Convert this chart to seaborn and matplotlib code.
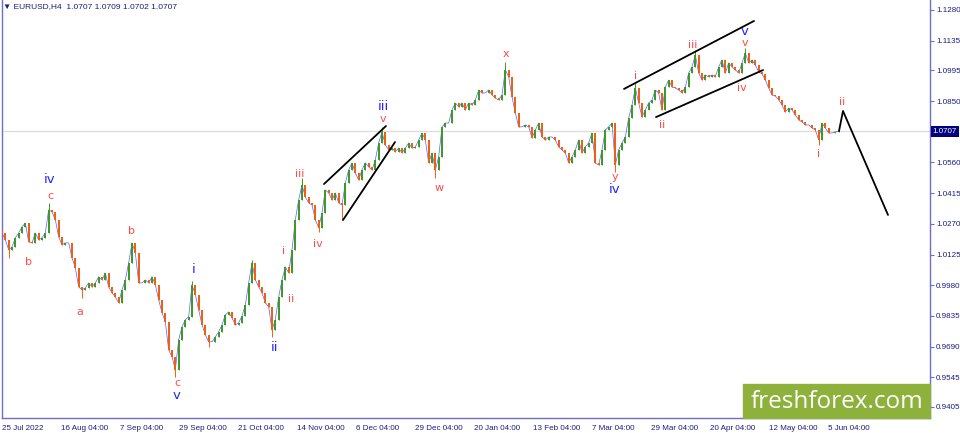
import numpy as np
import pandas as pd
import seaborn as sns
import matplotlib.pyplot as plt
from matplotlib.patches import Rectangle
from matplotlib.transforms import blended_transform_factory

# EURUSD H4 closes, sampled roughly every 6-7 bars
closes = [
    1.0227, 1.0194, 1.0147, 1.0161, 1.0204, 1.0227, 1.0256, 1.0274, 1.0185, 1.0180,
    1.0227, 1.0194, 1.0204, 1.0227, 1.0336, 1.0326, 1.0289, 1.0208, 1.0171, 1.0180,
    1.0180, 1.0109, 1.0062, 0.9972, 0.9958, 0.9968, 0.9991, 0.9972, 0.9991, 1.0020,
    1.0005, 1.0038, 0.9972, 0.9944, 0.9925, 0.9897, 0.9958, 1.0005, 1.0086, 1.0180,
    1.0133, 0.9991, 0.9991, 1.0005, 0.9991, 1.0020, 0.9982, 0.9911, 0.9850, 0.9807,
    0.9675, 0.9642, 0.9581, 0.9722, 0.9784, 0.9817, 0.9831, 0.9982, 0.9935, 0.9864,
    0.9793, 0.9746, 0.9713, 0.9713, 0.9736, 0.9760, 0.9793, 0.9840, 0.9854, 0.9826,
    0.9793, 0.9802, 0.9835, 0.9887, 0.9991, 1.0086, 1.0005, 0.9972, 0.9944, 0.9897,
    0.9878, 0.9769, 0.9817, 0.9925, 1.0005, 1.0067, 1.0038, 1.0147, 1.0289, 1.0383,
    1.0454, 1.0397, 1.0369, 1.0359, 1.0289, 1.0251, 1.0322, 1.0430, 1.0416, 1.0383,
    1.0416, 1.0369, 1.0359, 1.0463, 1.0525, 1.0558, 1.0510, 1.0477, 1.0525, 1.0558,
    1.0539, 1.0525, 1.0572, 1.0652, 1.0704, 1.0643, 1.0619, 1.0628, 1.0610, 1.0628,
    1.0605, 1.0628, 1.0652, 1.0628, 1.0633, 1.0666, 1.0699, 1.0666, 1.0558, 1.0605,
    1.0525, 1.0586, 1.0728, 1.0746, 1.0746, 1.0808, 1.0841, 1.0822, 1.0841, 1.0808,
    1.0841, 1.0831, 1.0855, 1.0902, 1.0888, 1.0888, 1.0902, 1.0879, 1.0864, 1.0855,
    1.0879, 1.0997, 1.0964, 1.0869, 1.0794, 1.0728, 1.0728, 1.0737, 1.0728, 1.0676,
    1.0713, 1.0746, 1.0680, 1.0666, 1.0680, 1.0680, 1.0666, 1.0633, 1.0619, 1.0605,
    1.0558, 1.0586, 1.0619, 1.0666, 1.0605, 1.0633, 1.0652, 1.0699, 1.0558, 1.0548,
    1.0619, 1.0713, 1.0728, 1.0746, 1.0548, 1.0619, 1.0652, 1.0680, 1.0770, 1.0831,
    1.0912, 1.0841, 1.0775, 1.0808, 1.0841, 1.0855, 1.0902, 1.0888, 1.0808, 1.0916,
    1.0949, 1.0916, 1.0912, 1.0902, 1.0888, 1.0916, 1.0982, 1.1011, 1.1067, 1.0982,
    1.0949, 1.0973, 1.0964, 1.0973, 1.0964, 1.1011, 1.1044, 1.0982, 1.1030, 1.1011,
    1.0997, 1.0982, 1.1030, 1.1077, 1.1030, 1.1044, 1.1020, 1.0987, 1.0978, 1.0949,
    1.0912, 1.0879, 1.0874, 1.0855, 1.0831, 1.0798, 1.0817, 1.0808, 1.0784, 1.0761,
    1.0751, 1.0737, 1.0737, 1.0723, 1.0713, 1.0666, 1.0746, 1.0723, 1.0699, 1.0699,
    1.0704, 1.0707,
]
first_open = 1.0240

# swing extremes (wicks)
high_bars = [14, 57, 75, 90, 114, 151, 190, 208, 223]
high_vals = [1.0369, 1.0000, 1.0100, 1.0487, 1.0728, 1.1034, 1.0935, 1.1091, 1.1100]
low_bars = [2, 24, 52, 62, 81, 95, 102, 130, 184, 245]
low_vals = [1.0109, 0.9920, 0.9548, 0.9688, 0.9736, 1.0232, 1.0289, 1.0487, 1.0515, 1.0643]

date_labels = ["25 Jul 2022", "16 Aug 04:00", "7 Sep 04:00", "29 Sep 04:00",
               "21 Oct 04:00", "14 Nov 04:00", "6 Dec 04:00", "29 Dec 04:00",
               "20 Jan 04:00", "13 Feb 04:00", "7 Mar 04:00", "29 Mar 04:00",
               "20 Apr 04:00", "12 May 04:00", "5 Jun 04:00"]
price_ticks = [1.1280, 1.1135, 1.0995, 1.0850, 1.0560, 1.0415, 1.0270,
               1.0125, 0.9980, 0.9835, 0.9690, 0.9545, 0.9405]
last_price = 1.0707

# wave counts: (text, bar, price)
blue_waves = [("iv", 14.4, 1.0477), ("v", 52.5, 0.9461), ("i", 57.6, 1.0052),
              ("ii", 81.6, 0.9688), ("iii", 114.3, 1.0826), ("iv", 183.9, 1.0434),
              ("v", 222.9, 1.1176)]
red_waves = [("c", 14.4, 1.0401), ("b", 8.1, 1.0090), ("a", 23.4, 0.9853),
             ("b", 38.7, 1.0236), ("c", 52.5, 0.9518), ("i", 84.6, 1.0142),
             ("ii", 86.7, 0.9915), ("iii", 89.4, 1.0505), ("iv", 94.8, 1.0175),
             ("v", 114.3, 1.0765), ("w", 131.1, 1.0439), ("x", 151.2, 1.1072),
             ("y", 183.9, 1.0491), ("i", 190.2, 1.0968), ("ii", 198.0, 1.0737),
             ("iii", 207.3, 1.1115), ("iv", 222.0, 1.0911), ("v", 222.9, 1.1124),
             ("i", 245.1, 1.0600), ("ii", 252.0, 1.0845)]

# trend lines drawn on the chart
channel_lines = [
    ([96.6, 115.2], [1.0458, 1.0732]),
    ([102.3, 117.9], [1.0288, 1.0656]),
    ([186.6, 225.6], [1.0907, 1.1228]),
    ([196.2, 228.3], [1.0774, 1.0996]),
]
forecast_bars = [251.1, 252.3, 265.8]
forecast_prices = [1.0708, 1.0803, 1.0312]

sns.set_style("white")
plt.rcParams['font.family'] = ['Liberation Sans', 'DejaVu Sans']

df = pd.DataFrame({'bar': np.arange(len(closes)), 'close': closes})
df['open'] = df['close'].shift(1).fillna(first_open)
df['high'] = df[['open', 'close']].max(axis=1)
df['low'] = df[['open', 'close']].min(axis=1)
df.loc[high_bars, 'high'] = high_vals
df.loc[low_bars, 'low'] = low_vals
up = df['close'] >= df['open']
green, orange = '#3d9a27', '#f2600f'
cols = np.where(up, green, orange)

fig = plt.figure(figsize=(9.6, 4.33), dpi=100)
ax = fig.add_axes([2 / 960, 15 / 433, 928 / 960, 418 / 433])

ax.axhline(last_price, color='#dcdcdc', lw=0.9, zorder=0)
sns.lineplot(data=df, x='bar', y='close', color='#3535ff', lw=0.5, alpha=0.8,
             ax=ax, zorder=1)
ax.vlines(df['bar'], df['low'], df['high'], colors=cols, lw=0.7, zorder=2)
ax.bar(df['bar'], df['close'] - df['open'], bottom=df['open'], width=0.6,
       color=cols, linewidth=0, zorder=3)

for xs, ys in channel_lines:
    ax.plot(xs, ys, color='black', lw=1.3, zorder=4)
ax.plot(forecast_bars, forecast_prices, color='black', lw=1.3, zorder=4)

for txt, bx, py in blue_waves:
    ax.text(bx, py, txt, color='#2424ff', fontsize=9.5, ha='center', va='center',
            family='DejaVu Sans', zorder=5)
for txt, bx, py in red_waves:
    ax.text(bx, py, txt, color='#ff4a4a', fontsize=8, ha='center', va='center',
            family='DejaVu Sans', zorder=5)

ax.set_xlim(0, 278.4)
ax.set_ylim(0.9353, 1.1327)
ax.set_xlabel('')
ax.set_ylabel('')

navy = '#1c1c80'
ax.yaxis.tick_right()
ax.set_yticks(price_ticks)
ax.set_yticklabels([f"{p:.4f}" for p in price_ticks])
tick_step = 17.7
ax.set_xticks(np.arange(len(date_labels)) * tick_step)
ax.set_xticklabels(date_labels, ha='left')
ax.tick_params(axis='both', colors='#6e6ec8', labelcolor=navy, labelsize=5.8,
               length=3, width=0.8, direction='out', pad=1.5)
ax.tick_params(axis='x', pad=2)

for side in ['left', 'bottom', 'right']:
    ax.spines[side].set_color('#6e6ec8')
    ax.spines[side].set_linewidth(1.0)
ax.spines['top'].set_visible(False)

trans = blended_transform_factory(ax.transAxes, ax.transData)
ax.text(1.003, last_price, f"{last_price:.4f}", transform=trans, color='white',
        fontsize=5.8, va='center', ha='left',
        bbox=dict(boxstyle='square,pad=0.25', fc='#000080', ec='none'))

fig.text(3 / 960, 1 - 7 / 433, "\u25bc EURUSD,H4  1.0707 1.0709 1.0702 1.0707",
         color=navy, fontsize=6, va='center', ha='left',
         family=['Liberation Sans', 'DejaVu Sans'])

# watermark
fig.add_artist(Rectangle((743 / 960, 15 / 433), 187 / 960, 34 / 433,
                         transform=fig.transFigure, color='#8db13b', zorder=10))
fig.text(837 / 960, 31 / 433, "freshforex.com", ha='center', va='center',
         color='white', fontsize=17.5, family='Open Sans', zorder=11)

fig.savefig('out.png', dpi=100)
